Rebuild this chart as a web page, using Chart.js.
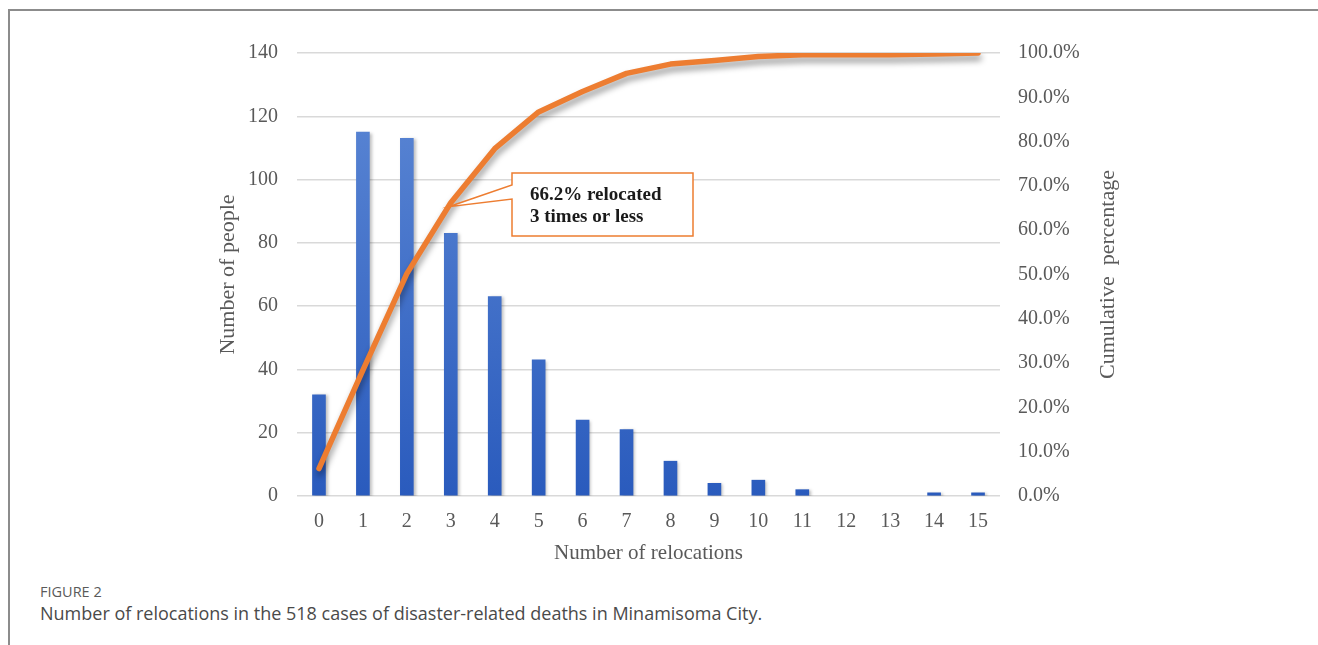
<!DOCTYPE html>
<html lang="en">
<head>
<meta charset="utf-8">
<title>Number of relocations</title>
<script src="https://cdn.jsdelivr.net/npm/chart.js@4/dist/chart.umd.min.js"></script>
<style>
  html, body { margin: 0; padding: 0; background: #fff; }
  body { width: 1318px; height: 645px; position: relative; overflow: hidden; }
  .cadre { position: absolute; left: 8px; top: 9px; width: 1320px; height: 650px;
           border-top: 2px solid #8c8c8c; border-left: 2px solid #8c8c8c; }
  .zone { position: absolute; left: 0; top: 0; width: 1318px; height: 570px; }
  .fig { position: absolute; left: 40px; top: 582px; font-family: "Open Sans", sans-serif;
         font-size: 14.5px; color: #5a5a5a; }
  .legende { position: absolute; left: 40px; top: 601px; font-family: "Open Sans", sans-serif;
             font-size: 18px; color: #4a4a4a; }
</style>
</head>
<body>
<div class="cadre"></div>
<div class="zone"><canvas id="graphique"></canvas></div>
<div class="fig">FIGURE 2</div>
<div class="legende">Number of relocations in the 518 cases of disaster-related deaths in Minamisoma City.</div>

<script>
// donnees
const relocations = ['0','1','2','3','4','5','6','7','8','9','10','11','12','13','14','15'];
const nbPersonnes = [32, 115, 113, 83, 63, 43, 24, 21, 11, 4, 5, 2, 0, 0, 1, 1];
const cumulPct = [6.2, 28.4, 50.2, 66.2, 78.4, 86.7, 91.3, 95.4, 97.5, 98.3, 99.2, 99.6, 99.6, 99.6, 99.8, 100.0];
const ticksGauche = [0, 20, 40, 60, 80, 100, 120, 140];
const annotation = ['66.2% relocated', '3 times or less'];
const titreDroite = 'Cumulative  percentage';
const indexAnnote = 3;

const serif = '"Liberation Serif", "Times New Roman", serif';
const gris = '#595959';

// degrade des barres (transparent pour les valeurs nulles, sinon l'ombre reste visible)
function degradeBarres(context) {
  const chart = context.chart;
  const area = chart.chartArea;
  if (context.raw === 0) return 'rgba(0,0,0,0)';
  if (!area) return '#3a6bc8';
  const g = chart.ctx.createLinearGradient(0, area.top, 0, area.bottom);
  g.addColorStop(0, '#5f8ad6');
  g.addColorStop(1, '#2a5bbd');
  return g;
}

// ombre sous les series
const ombrePlugin = {
  id: 'ombre',
  beforeDatasetDraw(chart, args) {
    const ctx = chart.ctx;
    ctx.save();
    if (args.index === 1) {
      ctx.shadowColor = 'rgba(0,0,0,0.4)';
      ctx.shadowBlur = 6;
      ctx.shadowOffsetX = 1;
      ctx.shadowOffsetY = 5;
    } else {
      ctx.shadowColor = 'rgba(0,0,0,0.25)';
      ctx.shadowBlur = 3;
      ctx.shadowOffsetX = 2;
      ctx.shadowOffsetY = 1;
    }
  },
  afterDatasetDraw(chart) {
    chart.ctx.restore();
  }
};

// titre de l'axe droit, ecrit de bas en haut
const titreDroitePlugin = {
  id: 'titreDroite',
  afterDraw(chart) {
    const ctx = chart.ctx;
    const a = chart.chartArea;
    ctx.save();
    ctx.translate(1108, (a.top + a.bottom) / 2);
    ctx.rotate(-Math.PI / 2);
    ctx.fillStyle = gris;
    ctx.font = '22px ' + serif;
    ctx.textAlign = 'center';
    ctx.textBaseline = 'middle';
    ctx.fillText(titreDroite, 0, 0);
    ctx.restore();
  }
};

// bulle d'annotation
const bullePlugin = {
  id: 'bulle',
  afterDatasetsDraw(chart) {
    const ctx = chart.ctx;
    const x = chart.scales.x.getPixelForValue(indexAnnote) - 2;
    const y = chart.scales.y2.getPixelForValue(cumulPct[indexAnnote]) + 4;
    const bx = 512, by = 173, bw = 181, bh = 63;
    ctx.save();
    ctx.beginPath();
    ctx.moveTo(bx, by);
    ctx.lineTo(bx + bw, by);
    ctx.lineTo(bx + bw, by + bh);
    ctx.lineTo(bx, by + bh);
    ctx.lineTo(bx, by + 26);
    ctx.lineTo(x, y);
    ctx.lineTo(bx, by + 12);
    ctx.closePath();
    ctx.fillStyle = '#fff';
    ctx.fill();
    ctx.strokeStyle = '#ed7d31';
    ctx.lineWidth = 1.5;
    ctx.stroke();
    ctx.fillStyle = '#1a1a1a';
    ctx.font = 'bold 19px ' + serif;
    ctx.textBaseline = 'middle';
    ctx.fillText(annotation[0], bx + 18, by + 22);
    ctx.fillText(annotation[1], bx + 18, by + 44);
    ctx.restore();
  }
};

const ctx = document.getElementById('graphique').getContext('2d');
new Chart(ctx, {
  data: {
    labels: relocations,
    datasets: [{
      type: 'bar',
      data: nbPersonnes,
      yAxisID: 'y',
      backgroundColor: degradeBarres,
      barThickness: 13,
      order: 2
    }, {
      type: 'line',
      data: cumulPct,
      yAxisID: 'y2',
      borderColor: '#ed7d31',
      borderWidth: 5.5,
      borderCapStyle: 'round',
      borderJoinStyle: 'round',
      pointRadius: 0,
      tension: 0,
      order: 1
    }]
  },
  options: {
    responsive: true,
    maintainAspectRatio: false,
    animation: false,
    layout: { padding: { top: 53, right: 0, bottom: 0, left: 0 } },
    plugins: { legend: { display: false }, tooltip: { enabled: false } },
    scales: {
      x: {
        grid: { display: false, drawTicks: false },
        border: { display: false },
        ticks: { color: gris, font: { family: serif, size: 20 }, padding: 14, maxRotation: 0 },
        title: { display: true, text: 'Number of relocations', color: gris,
                 font: { family: serif, size: 21 }, padding: { top: 0, bottom: 4 } },
        afterFit(s) { s.height = 74; }
      },
      y: {
        position: 'left',
        min: 0, max: 140,
        afterBuildTicks(s) { s.ticks = ticksGauche.map(v => ({ value: v })); },
        grid: { color: '#d9d9d9', lineWidth: 1.5, drawTicks: false },
        border: { display: false },
        ticks: { color: gris, font: { family: serif, size: 20 }, padding: 19 },
        title: { display: true, text: 'Number of people', color: gris,
                 font: { family: serif, size: 22 }, padding: { top: 215, bottom: 0 } },
        afterFit(s) { s.width = 297; }
      },
      y2: {
        position: 'right',
        min: 0, max: 100,
        grid: { display: false, drawTicks: false },
        border: { display: false },
        ticks: { stepSize: 10, color: gris, font: { family: serif, size: 20 }, padding: 18,
                 callback: v => v.toFixed(1) + '%' },
        afterFit(s) { s.width = 318; }
      }
    }
  },
  plugins: [ombrePlugin, bullePlugin, titreDroitePlugin]
});
</script>
</body>
</html>
